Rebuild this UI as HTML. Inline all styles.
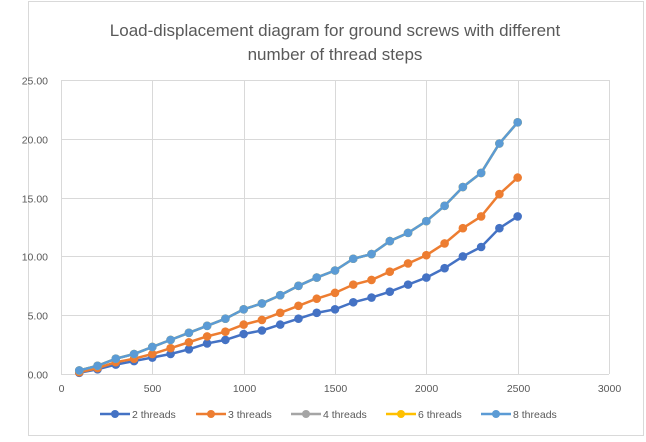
<!DOCTYPE html>
<html><head><style>
body{margin:0;background:#fff;}
svg text{font-family:"Liberation Sans",sans-serif;}
</style></head><body>
<svg width="646" height="437" xmlns="http://www.w3.org/2000/svg">
<rect x="0" y="0" width="646" height="437" fill="#fff"/>
<rect x="28.5" y="1.5" width="615" height="434" fill="none" stroke="#d9d9d9"/>
<text x="335" y="36" font-size="17" fill="#595959" text-anchor="middle">Load-displacement diagram for ground screws with different</text>
<text x="335" y="60" font-size="17" fill="#595959" text-anchor="middle">number of thread steps</text>
<g id="grid" stroke="#d9d9d9" stroke-width="1"></g>
<g id="lab" font-size="10.5" fill="#595959"></g>
<g id="ser"></g>
<g font-size="10.5" fill="#595959" id="leg"></g>
</svg>
<script>
const X0=61,X1=609,Y0=374,Y1=80;
const sx=v=>X0+(X1-X0)*v/3000, sy=v=>Y0-(Y0-Y1)*v/25;
const ns="http://www.w3.org/2000/svg";
function el(p,t,a,txt){const e=document.createElementNS(ns,t);for(const k in a)e.setAttribute(k,a[k]);if(txt!=null)e.textContent=txt;document.getElementById(p).appendChild(e);return e;}
for(let i=0;i<=5;i++){const y=Math.round(sy(i*5))+0.5;el('grid','line',{x1:X0,x2:X1,y1:y,y2:y});el('lab','text',{x:48,y:y+4,'text-anchor':'end'},(i*5).toFixed(2));}
for(let i=0;i<=6;i++){const x=Math.round(sx(i*500))+0.5;el('grid','line',{x1:x,x2:x,y1:Y1,y2:Y0});el('lab','text',{x:x,y:Y0+18,'text-anchor':'middle'},i*500);}
const d2=[0.1,0.4,0.8,1.1,1.4,1.7,2.1,2.6,2.9,3.4,3.7,4.2,4.7,5.2,5.5,6.1,6.5,7.0,7.6,8.2,9.0,10.0,10.8,12.4,13.4];
const d3=[0.15,0.5,1.0,1.3,1.7,2.2,2.7,3.2,3.6,4.2,4.6,5.2,5.8,6.4,6.9,7.6,8.0,8.7,9.4,10.1,11.1,12.4,13.4,15.3,16.7];
const d8=[0.3,0.7,1.3,1.7,2.3,2.9,3.5,4.1,4.7,5.5,6.0,6.7,7.5,8.2,8.8,9.8,10.2,11.3,12.0,13.0,14.3,15.9,17.1,19.6,21.4];
const S=[[d2,'#4472c4'],[d3,'#ed7d31'],[d8,'#a5a5a5'],[d8,'#ffc000'],[d8,'#5b9bd5']];
S.forEach(([d,c])=>{const pts=d.map((v,i)=>[sx((i+1)*100),sy(v)]);
el('ser','polyline',{points:pts.map(p=>p.join(',')).join(' '),fill:'none',stroke:c,'stroke-width':2.5});
pts.forEach(p=>el('ser','circle',{cx:p[0],cy:p[1],r:4.3,fill:c}));});
const L=[['2 threads','#4472c4',100],['3 threads','#ed7d31',196],['4 threads','#a5a5a5',291],['6 threads','#ffc000',386],['8 threads','#5b9bd5',481]];
L.forEach(([t,c,x])=>{el('leg','line',{x1:x,x2:x+30,y1:414,y2:414,stroke:c,'stroke-width':2.5});el('leg','circle',{cx:x+15,cy:414,r:4,fill:c});el('leg','text',{x:x+32,y:418},t);});
</script>
</body></html>
